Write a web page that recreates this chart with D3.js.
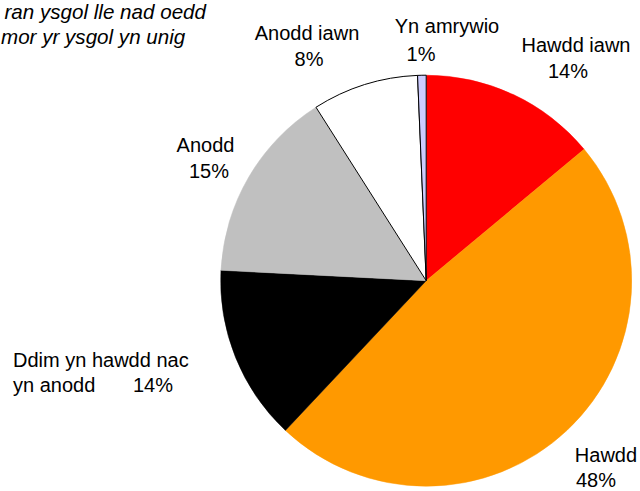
<!DOCTYPE html>
<html>
<head>
<meta charset="utf-8">
<script src="https://cdn.jsdelivr.net/npm/d3@7/dist/d3.min.js"></script>
<style>
  html, body { margin: 0; padding: 0; background: #fff; }
  svg { display: block; }
  text { font-family: "Liberation Sans", Arial, sans-serif; fill: #000; }
</style>
</head>
<body>
<svg id="chart" width="640" height="491"></svg>
<script>
// ---- Data ----
const categories = ["Hawdd iawn", "Hawdd", "Ddim yn hawdd nac yn anodd", "Anodd", "Anodd iawn", "Yn amrywio"];
const values = [13.95, 48.06, 13.8, 15.18, 8.34, 0.67];
const percentLabels = ["14%", "48%", "14%", "15%", "8%", "1%"];
const colors = ["#FF0000", "#FF9900", "#000000", "#C0C0C0", "#FFFFFF", "#CCCCFF"];
const titleLines = ["ran ysgol lle nad oedd", "mor yr ysgol yn unig"];

// ---- Layout ----
const svg = d3.select("#chart");
const cx = 426.2, cy = 280.7, R = 205.5;

const data = categories.map((c, i) => ({ cat: c, value: values[i], pct: percentLabels[i], color: colors[i] }));

const pie = d3.pie().value(d => d.value).sort(null).startAngle(0).endAngle(2 * Math.PI);
const arcs = pie(data);
const arc = d3.arc().innerRadius(0).outerRadius(R);

const g = svg.append("g").attr("transform", `translate(${cx},${cy})`);
const outlined = c => c === "#FFFFFF" || c === "#CCCCFF";

g.selectAll("path.slice")
  .data(arcs)
  .enter().append("path")
  .attr("class", "slice")
  .attr("d", arc)
  .attr("fill", d => d.data.color)
  .attr("stroke", d => outlined(d.data.color) ? "none" : d.data.color)
  .attr("stroke-width", 0.5);

g.selectAll("path.outlined")
  .data(arcs.filter(d => outlined(d.data.color)))
  .enter().append("path")
  .attr("class", "outlined")
  .attr("d", arc)
  .attr("fill", d => d.data.color)
  .attr("stroke", "#000")
  .attr("stroke-width", 1);

// ---- Labels (Excel-style placement) ----
const labelLayout = [
  [[0, 576, 52, "middle"], [1, 568, 78, "middle"]],
  [[0, 606, 462, "middle"], [1, 596, 487, "middle"]],
  [[0, 13, 367, "start"], [2, 13, 392, "start"], [1, 153, 392, "middle"]],
  [[0, 205.5, 152, "middle"], [1, 209, 178, "middle"]],
  [[0, 307, 40, "middle"], [1, 309, 66, "middle"]],
  [[0, 447, 33, "middle"], [1, 421, 61, "middle"]]
];

arcs.forEach((a, i) => {
  const d = a.data;
  let nameLines = [d.cat];
  if (d.cat === "Ddim yn hawdd nac yn anodd") nameLines = ["Ddim yn hawdd nac", "yn anodd"];
  labelLayout[i].forEach(([kind, x, y, anchor]) => {
    const txt = kind === 0 ? nameLines[0] : kind === 2 ? nameLines[1] : d.pct;
    svg.append("text")
      .attr("x", x).attr("y", y)
      .attr("text-anchor", anchor)
      .attr("font-size", 20)
      .text(txt);
  });
});

// ---- Title (partly visible at top-left) ----
svg.append("text").attr("x", 206).attr("y", 19).attr("text-anchor", "end")
  .attr("font-size", 20.6).attr("font-style", "italic").text(titleLines[0]);
svg.append("text").attr("x", 1).attr("y", 44).attr("text-anchor", "start")
  .attr("font-size", 20.6).attr("font-style", "italic").text(titleLines[1]);
</script>
</body>
</html>
